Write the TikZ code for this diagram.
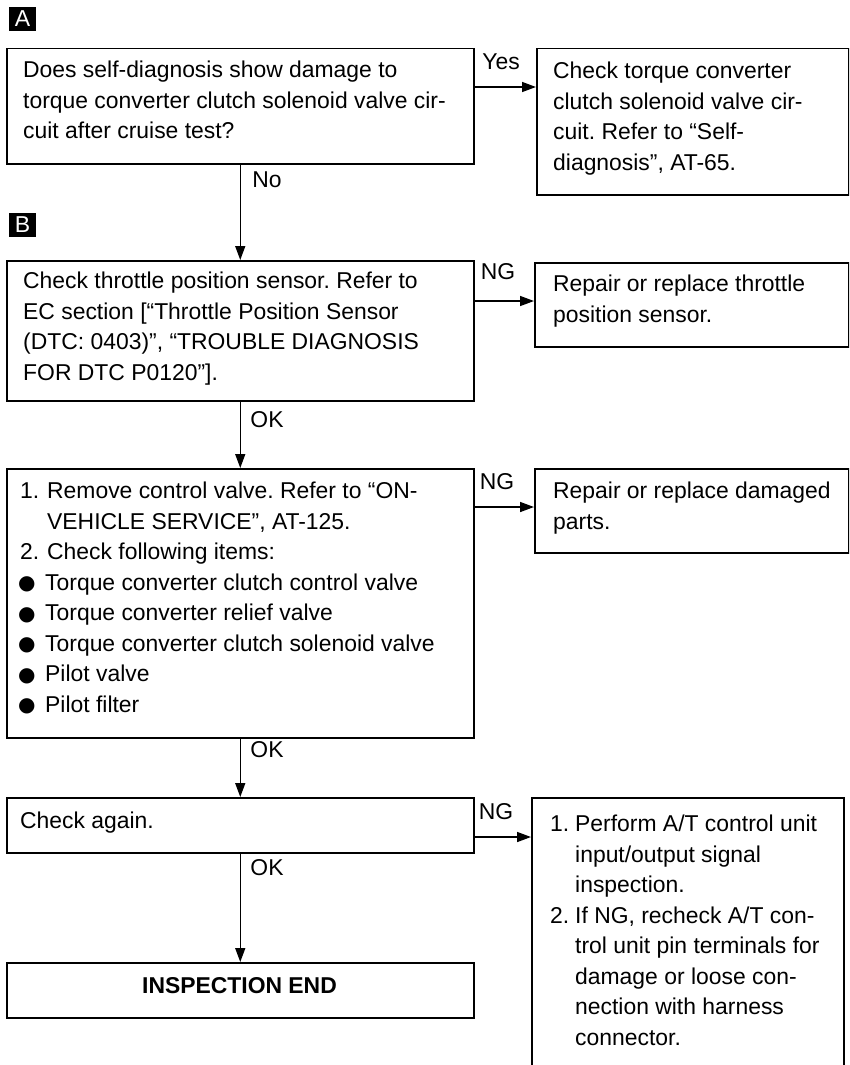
\documentclass[tikz,border=0pt]{standalone}
\usepackage{fontspec}
\setmainfont{Liberation Sans}
\newfontfamily\dejavu{DejaVu Sans}
\usetikzlibrary{arrows.meta,calc}
\newcommand\fs{\fontsize{22.9}{30.5}\selectfont\frenchspacing}
\newcommand\bul{\makebox[25pt][l]{\hspace{-2pt}\raisebox{0.5pt}{\fontsize{20}{20}\dejavu ●}}}
\begin{document}
\begin{tikzpicture}[x=1pt,y=-1pt,
  box/.style={draw, line width=1.5pt, inner sep=0pt, anchor=north west},
  txt/.style={anchor=north west, inner sep=0pt, align=left, font=\fs},
  lbl/.style={inner sep=0pt, font=\fs},
  arr/.style={line width=1.5pt, -{Triangle[length=14pt,width=10pt]}},
  tag/.style={fill=black, text=white, minimum width=27pt, minimum height=24pt, inner sep=0pt, font=\fontsize{23}{23}\selectfont}
]
\useasboundingbox (0,0) rectangle (849,1065);
\clip (0,0) rectangle (849,1065);

% tags
\node[tag] (tagA) at (22.5,19) {A};
\node[tag] (tagB) at (22.5,225) {B};

% boxes
\node[box, minimum width=467pt, minimum height=115pt] (q1) at (6,48) {};
\node[box, minimum width=312pt, minimum height=146pt] (r1) at (536,48) {};
\node[box, minimum width=467pt, minimum height=140pt] (q2) at (6,260) {};
\node[box, minimum width=314pt, minimum height=84pt] (r2) at (534,262) {};
\node[box, minimum width=467pt, minimum height=269pt] (q3) at (6,468) {};
\node[box, minimum width=314pt, minimum height=84pt] (r3) at (534,468) {};
\node[box, minimum width=467pt, minimum height=55pt] (q4) at (6,797) {};
\node[box, minimum width=312pt, minimum height=300pt] (r4) at (531,797) {};
\node[box, minimum width=467pt, minimum height=55pt] (fin) at (6,962) {};

% texts
\node[txt] (t1) at (23,61) {Does self-diagnosis show damage to\\torque converter clutch solenoid valve cir-\\cuit after cruise test?};
\node[txt] (t2) at (553,62) {Check torque converter\\clutch solenoid valve cir-\\cuit. Refer to “Self-\\diagnosis”, AT-65.};
\node[txt] (t3) at (23,272) {Check throttle position sensor. Refer to\\EC section [“Throttle Position Sensor\\(DTC: 0403)”, “TROUBLE DIAGNOSIS\\FOR DTC P0120”].};
\node[txt] (t4) at (553,275) {Repair or replace throttle\\position sensor.};
\node[txt] (t5) at (20,482) {\makebox[27pt][l]{1.}Remove control valve. Refer to “ON-\\\hspace*{27pt}VEHICLE SERVICE”, AT-125.\\\makebox[27pt][l]{2.}Check following items:\\\bul Torque converter clutch control valve\\\bul Torque converter relief valve\\\bul Torque converter clutch solenoid valve\\\bul Pilot valve\\\bul Pilot filter};
\node[txt] (t6) at (553,482) {Repair or replace damaged\\parts.};
\node[txt] (t7) at (20,812) {Check again.};
\node[txt] (t8) at (550,815) {\makebox[25pt][l]{1.}Perform A/T control unit\\\hspace*{25pt}input/output signal\\\hspace*{25pt}inspection.\\\makebox[25pt][l]{2.}If NG, recheck A/T con-\\\hspace*{25pt}trol unit pin terminals for\\\hspace*{25pt}damage or loose con-\\\hspace*{25pt}nection with harness\\\hspace*{25pt}connector.};
\node[lbl, font=\fs\bfseries] (t9) at (239.5,986) {INSPECTION END};

% connectors
\draw[arr] ([yshift=-39pt]q1.north east) -- ([yshift=-39pt]q1.north east -| r1.west);
\draw[arr] (q1.south) -- (q2.north);
\draw[arr] ([yshift=-41pt]q2.north east) -- ([yshift=-41pt]q2.north east -| r2.west);
\draw[arr] (q2.south) -- (q3.north);
\draw[arr] ([yshift=-39pt]q3.north east) -- ([yshift=-39pt]q3.north east -| r3.west);
\draw[arr] (q3.south) -- (q4.north);
\draw[arr] ([yshift=-40pt]q4.north east) -- ([yshift=-40pt]q4.north east -| r4.west);
\draw[arr] (q4.south) -- (fin.north);

% labels
\node[lbl] (yes) at (501,62) {Yes};
\node[lbl] (no) at (267,180) {No};
\node[lbl] (ng1) at (498,272) {NG};
\node[lbl] (ok1) at (267,420) {OK};
\node[lbl] (ng2) at (497,482) {NG};
\node[lbl] (ok2) at (267,750) {OK};
\node[lbl] (ng3) at (496,812) {NG};
\node[lbl] (ok3) at (267,868) {OK};
\end{tikzpicture}
\end{document}
